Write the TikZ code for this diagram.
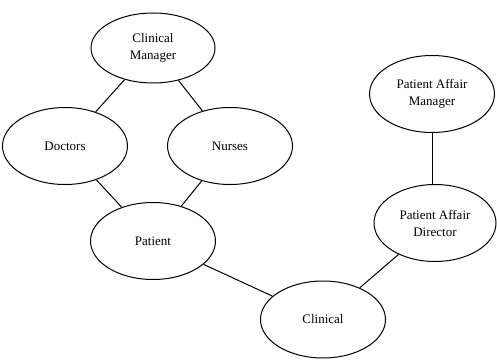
\documentclass[tikz,border=0pt]{standalone}
\usepackage{fontspec}
\setmainfont{Liberation Serif}
\usetikzlibrary{shapes.geometric}

\begin{document}
\begin{tikzpicture}[x=1pt,y=1pt,
	role/.style={ellipse,draw=black,line width=1pt,minimum width=125pt,minimum height=77pt,inner sep=0pt,align=center,font=\fontsize{13}{17}\selectfont},
	link/.style={line width=1pt}]
	\useasboundingbox (0,0) rectangle (497,359);
	\node[role,minimum width=124pt,minimum height=70pt] (cman) at (153,311) {Clinical\\Manager};
	\node[role] (doctors) at (65,213) {Doctors};
	\node[role] (nurses) at (230,213) {Nurses};
	\node[role] (patient) at (153,118) {Patient};
	\node[role] (clinical) at (323,39.5) {Clinical};
	\node[role] (pam) at (432,265) {Patient Affair\\Manager};
	\node[role,minimum width=122pt] (pad) at (435,136) {Patient Affair\\Director};
	\draw[link] (cman) -- (doctors);
	\draw[link] (cman) -- (nurses);
	\draw[link] (doctors) -- (patient);
	\draw[link] (nurses) -- (patient);
	\draw[link] (patient) -- (clinical);
	\draw[link] (clinical) -- (pad);
	\draw[link] (pam) -- (pam |- pad.north);
\end{tikzpicture}
\end{document}
